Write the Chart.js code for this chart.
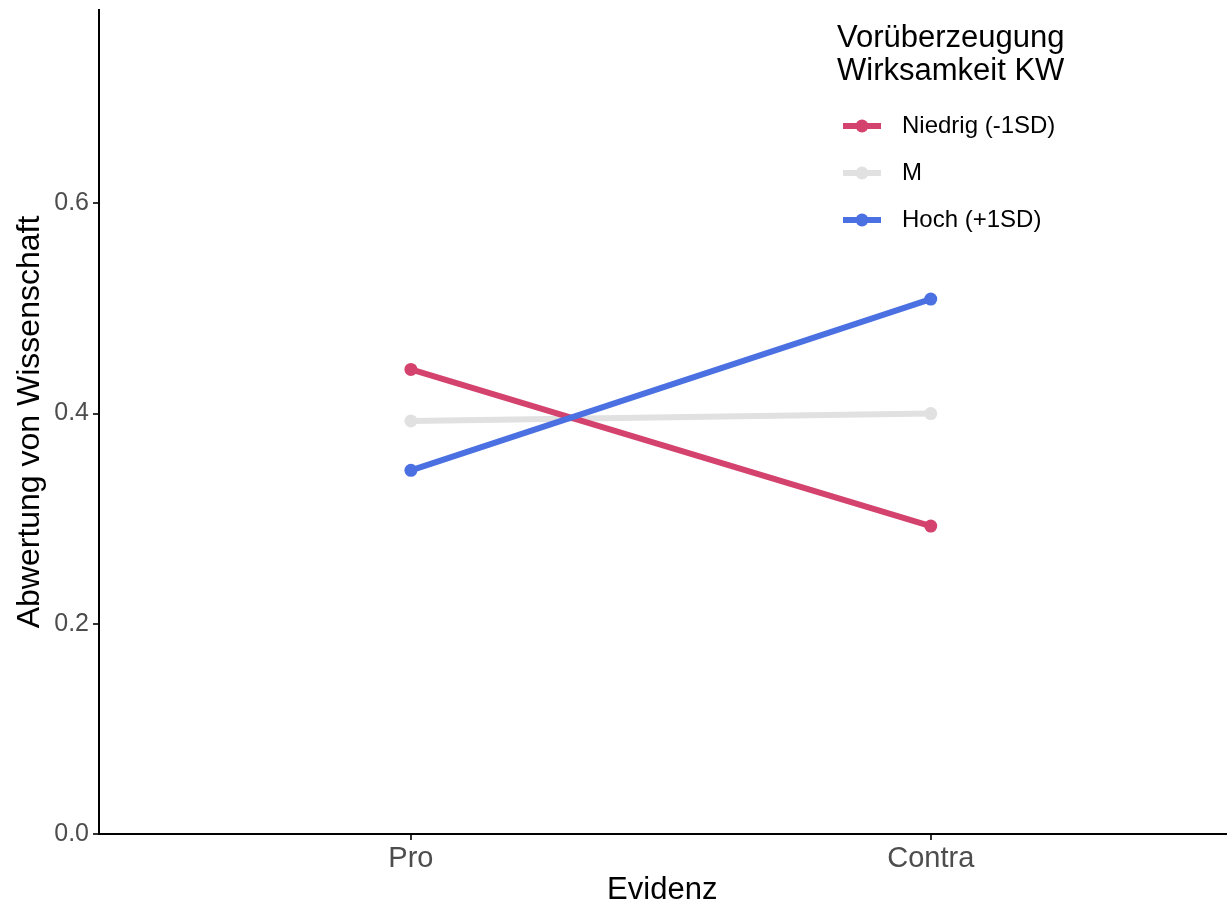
<!DOCTYPE html>
<html lang="de">
<head>
  <meta charset="UTF-8">
  <title>Abwertung von Wissenschaft</title>
  <style>
    html, body { margin: 0; padding: 0; background: #fff; }
    #wrap { width: 1232px; height: 909px; }
  </style>
</head>
<body>
  <div id="wrap"><canvas id="myChart"></canvas></div>
  <script src="https://cdn.jsdelivr.net/npm/chart.js"></script>
  <script>
    // data
    const categories = ['Pro', 'Contra']
    const seriesNames = ['Niedrig (-1SD)', 'M', 'Hoch (+1SD)']
    const niedrig = [0.442, 0.293]
    const mittel = [0.393, 0.400]
    const hoch = [0.346, 0.509]
    const yTicks = [0.0, 0.2, 0.4, 0.6]
    const legendTitle = ['Vorüberzeugung', 'Wirksamkeit KW']

    const colors = ['#D4426E', '#E1E1E1', '#4B70E2']
    const drawOrder = [1, 2, 0] // blue on top, grey at the bottom
    const font = 'Liberation Sans, Arial, sans-serif'

    function points(values) {
      return values.map(function (v, i) { return { x: i, y: v } })
    }

    // legend drawn inside the plot, top right, like ggplot
    const ggLegend = {
      id: 'ggLegend',
      afterDraw(chart) {
        const c = chart.ctx
        c.save()
        c.fillStyle = '#000'
        c.font = '31px ' + font
        c.textBaseline = 'middle'
        c.textAlign = 'left'
        c.fillText(legendTitle[0], 837, 38)
        c.fillText(legendTitle[1], 837, 71)
        c.font = '24px ' + font
        seriesNames.forEach(function (name, i) {
          const y = 126 + i * 47
          c.strokeStyle = colors[i]
          c.lineWidth = 6
          c.beginPath()
          c.moveTo(843, y)
          c.lineTo(881, y)
          c.stroke()
          c.fillStyle = colors[i]
          c.beginPath()
          c.arc(862, y, 6.5, 0, Math.PI * 2)
          c.fill()
          c.fillStyle = '#000'
          c.fillText(name, 902, y)
        })
        c.restore()
      }
    }

    const ctx = document.getElementById('myChart')

    new Chart(ctx, {
      type: 'line',
      data: {
        datasets: [niedrig, mittel, hoch].map(function (vals, i) {
          return {
            label: seriesNames[i],
            data: points(vals),
            order: drawOrder[i],
            borderColor: colors[i],
            backgroundColor: colors[i],
            borderWidth: 6,
            pointRadius: 6.5,
            pointHoverRadius: 6.5,
            pointBorderWidth: 0,
            fill: false,
          }
        })
      },
      options: {
        responsive: true,
        maintainAspectRatio: false,
        animation: false,
        layout: { padding: { top: 10, right: 0, left: 0, bottom: 0 } },
        plugins: {
          legend: { display: false },
          tooltip: { enabled: false },
        },
        scales: {
          x: {
            type: 'linear',
            min: -0.6,
            max: 1.567,
            afterBuildTicks: function (scale) {
              scale.ticks = categories.map(function (_, i) { return { value: i } })
            },
            afterFit: function (scale) { scale.height = 75 },
            ticks: {
              callback: function (v) { return categories[v] },
              font: { size: 29, family: font },
              color: '#4D4D4D',
              padding: 2,
              maxRotation: 0,
            },
            grid: { drawOnChartArea: false, drawTicks: true, tickLength: 6, color: '#333', lineWidth: 2 },
            border: { display: true, color: '#000', width: 2 },
            title: {
              display: true,
              text: 'Evidenz',
              font: { size: 31, family: font },
              color: '#000',
              padding: { top: 2, bottom: 0 },
            },
          },
          y: {
            min: 0,
            max: 0.784,
            afterBuildTicks: function (scale) {
              scale.ticks = yTicks.map(function (v) { return { value: v } })
            },
            afterFit: function (scale) {
              scale.width = 99
              scale.paddingTop = 0
              scale.paddingBottom = 0
            },
            ticks: {
              callback: function (v) { return v.toFixed(1) },
              font: { size: 25, family: font },
              color: '#4D4D4D',
              padding: 4,
            },
            grid: { drawOnChartArea: false, drawTicks: true, tickLength: 6, color: '#333', lineWidth: 2 },
            border: { display: true, color: '#000', width: 2 },
            title: {
              display: true,
              text: 'Abwertung von Wissenschaft',
              font: { size: 32, family: font },
              color: '#000',
              padding: { top: 11, bottom: 4 },
            },
          }
        }
      },
      plugins: [ggLegend]
    })
  </script>
</body>
</html>
